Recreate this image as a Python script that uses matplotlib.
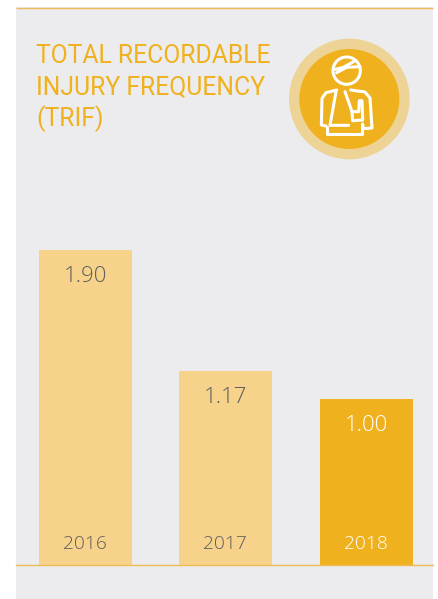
import numpy as np
import matplotlib
matplotlib.use("Agg")
import matplotlib.pyplot as plt
from matplotlib.patches import Circle, Rectangle

W, H = 438, 599

years = ["2016", "2017", "2018"]
trif = [1.90, 1.17, 1.00]
bar_colors = ["#F6D28B", "#F6D28B", "#F0B11E"]
year_colors = ["#5E5E5E", "#5E5E5E", "#FFFFFF"]
title_lines = ["TOTAL RECORDABLE", "INJURY FREQUENCY", "(TRIF)"]

PANEL = "#ECECEE"
GOLD = "#F0B11E"
RULE = "#EDBB55"


def axes_px(fig, x0, y0, x1, y1):
    # pixel box, y measured from the top of the image
    return fig.add_axes([x0 / W, 1 - y1 / H, (x1 - x0) / W, (y1 - y0) / H])


fig = plt.figure(figsize=(W / 100, H / 100), dpi=100, facecolor="white")

# background panel + rules, in pixel coordinates
bg = axes_px(fig, 0, 0, W, H)
bg.set_xlim(0, W)
bg.set_ylim(H, 0)
bg.axis("off")
bg.add_patch(Rectangle((16, 7), 417, 592, color=PANEL, lw=0))
bg.plot([16, 433], [7.5, 7.5], color=RULE, lw=1.0, solid_capstyle="butt")

for i, line in enumerate(title_lines):
    bg.text(36, 56 + i * 31.5, line, color=GOLD, fontsize=17.8, family="Roboto",
            weight="normal", va="center", ha="left")

# bars
px_per_unit = 315 / 1.90
ax = axes_px(fig, 16, 200, 433, 565)
ax.patch.set_alpha(0)
ax.set_xlim((16 - 85.2) / 140.5, (433 - 85.2) / 140.5)
ax.set_ylim(0, 365 / px_per_unit)
for s in ax.spines.values():
    s.set_visible(False)
ax.spines["bottom"].set_visible(True)
ax.spines["bottom"].set_color(RULE)
ax.spines["bottom"].set_linewidth(1.0)
ax.set_xticks([])
ax.set_yticks([])
xs = np.arange(len(years))
ax.bar(xs, trif, width=93 / 140.5, color=bar_colors, linewidth=0)
for x, v, yr, c in zip(xs, trif, years, year_colors):
    ax.annotate(f"{v:.2f}", (x, v), xytext=(0, -26), textcoords="offset pixels",
                ha="center", va="center", fontsize=16, color=c, family="Open Sans", weight="light")
    ax.annotate(yr, (x, 0), xytext=(-0.5, 21), textcoords="offset pixels",
                ha="center", va="center", fontsize=13.8, color=c, family="Open Sans", weight="light")

# icon, drawn in the coordinates of a 3x crop
ic = axes_px(fig, 280, 30, 420, 170)
ic.set_xlim(0, 420)
ic.set_ylim(420, 0)
ic.axis("off")
ic.add_patch(Circle((208, 207), 181, color="#EDD396", lw=0))
ic.add_patch(Circle((208, 207), 150, color=GOLD, lw=0))
lw = 2.2
ic.add_patch(Circle((200, 122), 41, fill=False, ec="white", lw=lw))
paths = [
    ([166, 190, 226], [118, 112, 92]),
    ([170, 200, 240], [128, 112, 110]),
    ([170, 138, 126, 124, 138], [180, 188, 205, 285, 288]),
    ([212, 255, 270, 276, 250, 248], [180, 186, 204, 294, 296, 282]),
    ([168, 150, 206], [185, 286, 286]),
    ([195, 216, 218], [185, 245, 272]),
    ([140, 140, 245, 245], [290, 311, 311, 282]),
    ([216, 236, 238, 246, 248, 220], [245, 245, 212, 212, 270, 272]),
]
for px, py in paths:
    ic.plot(px, py, color="white", lw=lw, solid_capstyle="round", solid_joinstyle="round")

fig.savefig("out.png", dpi=100, facecolor="white")
plt.close(fig)
